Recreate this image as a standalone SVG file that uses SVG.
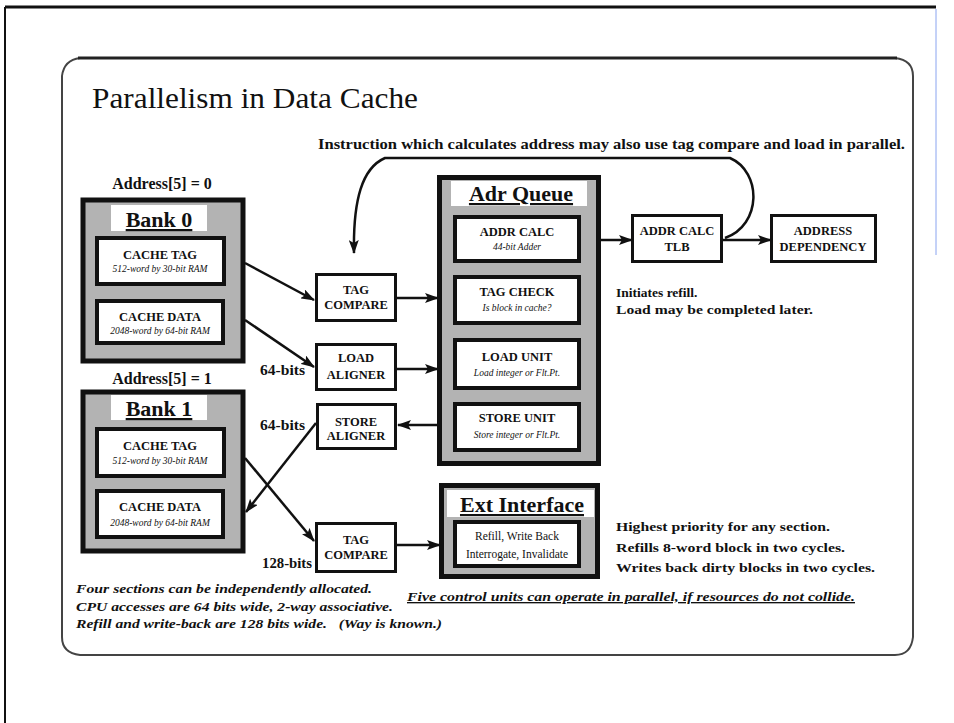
<svg xmlns="http://www.w3.org/2000/svg" width="954" height="723" viewBox="0 0 954 723">
<defs>
<marker id="ah" markerUnits="userSpaceOnUse" markerWidth="14" markerHeight="10" refX="13" refY="5" orient="auto">
<path d="M0,0 L14,5 L0,10 L3,5 Z" fill="#111"/>
</marker>
<style>
.t{font-family:"Liberation Serif","Times New Roman",serif;fill:#111}
.b{font-weight:bold}
.i{font-style:italic}
.c{text-anchor:middle}
.bank{fill:#b3b3b3;stroke:#111;stroke-width:5}
.inner{fill:#fff;stroke:#111;stroke-width:4}
.small{fill:#fff;stroke:#111;stroke-width:3}
.lbl{fill:#fff}
.conn path{fill:none;stroke:#111;stroke-width:2.5;marker-end:url(#ah)}
.h{font-size:12.5px;font-weight:bold}
.s{font-size:9.5px;font-style:italic}
.big{font-size:22px;font-weight:bold;text-decoration:underline}
.note{font-size:13.5px;font-weight:bold}
</style>
</defs>
<rect width="954" height="723" fill="#fff"/>
<!-- outer frame -->
<line x1="5" y1="7" x2="5" y2="723" stroke="#111" stroke-width="2"/>
<line x1="5" y1="7" x2="936" y2="7" stroke="#111" stroke-width="3"/>
<line x1="936" y1="9" x2="936" y2="255" stroke="#8aa4f0" stroke-width="1"/>
<!-- panel -->
<path d="M80,58 L895,58 Q913,60 913,76 L913,637 Q911,655 895,655 L80,655 Q62,653 62,637 L62,76 Q64,60 80,58 Z" fill="none" stroke="#444" stroke-width="2"/>
<line x1="78" y1="58" x2="897" y2="58" stroke="#222" stroke-width="3"/>
<text class="t" x="92" y="108" font-size="29" textLength="326" lengthAdjust="spacingAndGlyphs">Parallelism in Data Cache</text>
<text class="t b" x="318" y="149" font-size="14" textLength="587" lengthAdjust="spacingAndGlyphs">Instruction which calculates address may also use tag compare and load in parallel.</text>

<!-- Bank 0 -->
<g id="bank0">
<text class="t b c" x="162" y="189" font-size="16">Address[5] = 0</text>
<rect class="bank" x="83" y="200" width="160" height="161"/>
<rect class="lbl" x="111" y="205" width="96" height="26"/>
<text class="t big c" x="159" y="227">Bank 0</text>
</g>
<g id="bank0-tag">
<rect class="inner" x="97" y="238" width="127" height="46"/>
<text class="t h c" x="160" y="259">CACHE TAG</text>
<text class="t s c" x="160" y="272">512-word by 30-bit RAM</text>
</g>
<g id="bank0-data">
<rect class="inner" x="97" y="301" width="126" height="42"/>
<text class="t h c" x="160" y="321">CACHE DATA</text>
<text class="t s c" x="160" y="334">2048-word by 64-bit RAM</text>
</g>

<!-- Bank 1 -->
<g id="bank1">
<text class="t b c" x="162" y="384" font-size="16">Address[5] = 1</text>
<rect class="bank" x="83" y="392" width="160" height="159"/>
<rect class="lbl" x="111" y="395" width="96" height="25"/>
<text class="t big c" x="159" y="416">Bank 1</text>
</g>
<g id="bank1-tag">
<rect class="inner" x="97" y="429" width="127" height="47"/>
<text class="t h c" x="160" y="450">CACHE TAG</text>
<text class="t s c" x="160" y="464">512-word by 30-bit RAM</text>
</g>
<g id="bank1-data">
<rect class="inner" x="97" y="491" width="126" height="46"/>
<text class="t h c" x="160" y="511">CACHE DATA</text>
<text class="t s c" x="160" y="526">2048-word by 64-bit RAM</text>
</g>

<!-- middle units -->
<g id="tag-compare-1">
<rect class="small" x="316.5" y="274.5" width="79" height="46"/>
<text class="t h c" x="356" y="294">TAG</text>
<text class="t h c" x="356" y="309">COMPARE</text>
</g>
<g id="load-aligner">
<rect class="small" x="316.5" y="344.5" width="79" height="45"/>
<text class="t h c" x="356" y="362">LOAD</text>
<text class="t h c" x="356" y="379">ALIGNER</text>
</g>
<g id="store-aligner">
<rect class="small" x="317.5" y="404.5" width="78" height="44"/>
<text class="t h c" x="356" y="426">STORE</text>
<text class="t h c" x="356" y="440">ALIGNER</text>
</g>
<g id="tag-compare-2">
<rect class="small" x="316.5" y="523.5" width="79" height="48"/>
<text class="t h c" x="356" y="544">TAG</text>
<text class="t h c" x="356" y="559">COMPARE</text>
</g>
<text class="t b" x="260" y="375" font-size="14" textLength="45" lengthAdjust="spacingAndGlyphs">64-bits</text>
<text class="t b" x="260" y="430" font-size="14" textLength="45" lengthAdjust="spacingAndGlyphs">64-bits</text>
<text class="t b" x="262" y="568" font-size="14" textLength="50" lengthAdjust="spacingAndGlyphs">128-bits</text>

<!-- Adr Queue -->
<g id="adr-queue">
<rect class="bank" x="439.5" y="177.5" width="159" height="286"/>
<rect class="lbl" x="451" y="181" width="136" height="25"/>
<text class="t big c" x="521" y="201">Adr Queue</text>
</g>
<g id="addr-calc">
<rect class="inner" x="455" y="217" width="124" height="44"/>
<text class="t h c" x="517" y="236">ADDR CALC</text>
<text class="t s c" x="517" y="250">44-bit Adder</text>
</g>
<g id="tag-check">
<rect class="inner" x="455" y="277" width="124" height="46"/>
<text class="t h c" x="517" y="296">TAG CHECK</text>
<text class="t s c" x="517" y="311">Is block in cache?</text>
</g>
<g id="load-unit">
<rect class="inner" x="455" y="340" width="124" height="48"/>
<text class="t h c" x="517" y="361">LOAD UNIT</text>
<text class="t s c" x="517" y="376">Load integer or Flt.Pt.</text>
</g>
<g id="store-unit">
<rect class="inner" x="455" y="404" width="124" height="46"/>
<text class="t h c" x="517" y="422">STORE UNIT</text>
<text class="t s c" x="517" y="438">Store integer or Flt.Pt.</text>
</g>

<!-- right -->
<g id="addr-calc-tlb">
<rect class="small" x="632.5" y="215.5" width="89" height="46"/>
<text class="t h c" x="677" y="235">ADDR CALC</text>
<text class="t h c" x="677" y="251">TLB</text>
</g>
<g id="address-dependency">
<rect class="small" x="771.5" y="215.5" width="104" height="46"/>
<text class="t h c" x="823" y="235">ADDRESS</text>
<text class="t h c" x="823" y="251">DEPENDENCY</text>
</g>
<text class="t note" x="616" y="297">Initiates refill.</text>
<text class="t note" x="616" y="314" textLength="197" lengthAdjust="spacingAndGlyphs">Load may be completed later.</text>

<!-- Ext Interface -->
<g id="ext-interface">
<rect class="bank" x="441.5" y="485.5" width="156" height="91"/>
<rect class="lbl" x="447" y="490" width="147" height="27"/>
<text class="t big c" x="522" y="512">Ext Interface</text>
<rect class="inner" x="455" y="522" width="124" height="44"/>
<text class="t c" x="517" y="540" font-size="11.5">Refill, Write Back</text>
<text class="t c" x="517" y="558" font-size="11.5">Interrogate, Invalidate</text>
</g>
<text class="t note" x="616" y="531" textLength="214" lengthAdjust="spacingAndGlyphs">Highest priority for any section.</text>
<text class="t note" x="616" y="552" textLength="229" lengthAdjust="spacingAndGlyphs">Refills 8-word block in two cycles.</text>
<text class="t note" x="616" y="572" textLength="259" lengthAdjust="spacingAndGlyphs">Writes back dirty blocks in two cycles.</text>

<!-- notes -->
<text class="t b i" x="76" y="593" font-size="13" textLength="296" lengthAdjust="spacingAndGlyphs">Four sections can be independently allocated.</text>
<text class="t b i" x="76" y="611" font-size="13" textLength="317" lengthAdjust="spacingAndGlyphs">CPU accesses are 64 bits wide, 2-way associative.</text>
<text class="t b i" x="76" y="628" font-size="13" textLength="366" lengthAdjust="spacingAndGlyphs" xml:space="preserve">Refill and write-back are 128 bits wide.   (Way is known.)</text>
<text class="t b i" x="407" y="601" font-size="13.5" text-decoration="underline" textLength="448" lengthAdjust="spacingAndGlyphs">Five control units can operate in parallel, if resources do not collide.</text>

<!-- connectors -->
<g id="connectors" class="conn">
<path d="M245,263 L314,300"/>
<path d="M245,320 L314,367"/>
<path d="M397,298 L438,298"/>
<path d="M397,369 L438,369"/>
<path d="M437,425 L398,425"/>
<path d="M316,423 L246,512"/>
<path d="M245,458 L314,541"/>
<path d="M397,545 L440,545"/>
<path d="M601,240 L632,240"/>
<path d="M723,240 L771,240"/>
<path d="M725,238 C762,225 762,172 730,158 L385,158 C362,168 353,200 354,253"/>
</g>
</svg>
